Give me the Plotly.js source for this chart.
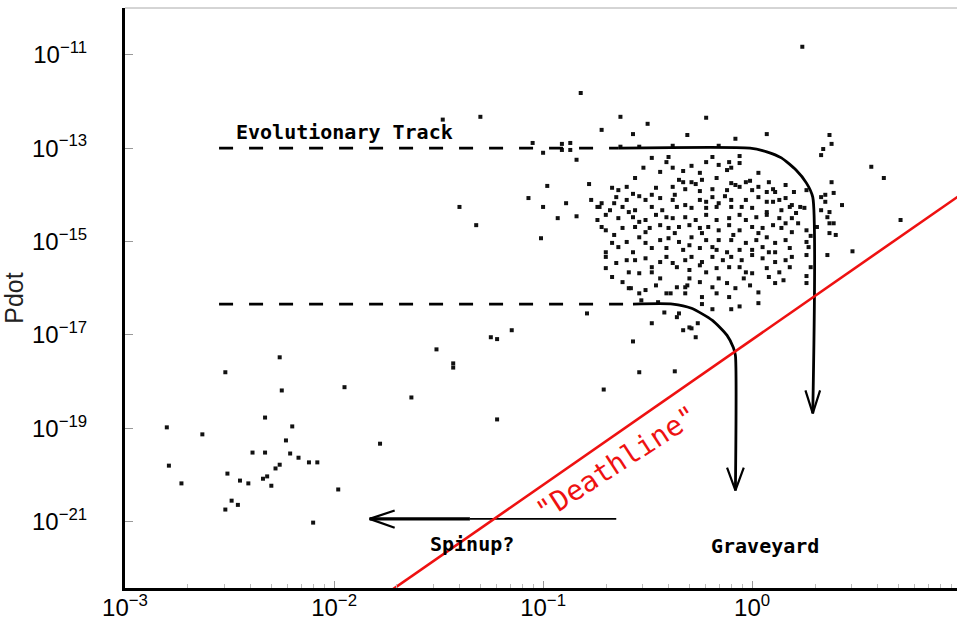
<!DOCTYPE html>
<html>
<head>
<meta charset="utf-8">
<script src="https://cdn.plot.ly/plotly-3.0.1.min.js"></script>
<style>html,body{margin:0;padding:0;background:#fff;}#chart{width:957px;height:623px;}</style>
</head>
<body>
<div id="chart"></div>
<script>
// ---- Pulsar P / Pdot values (log10 of period in s, log10 of Pdot) ----
const logP_outer = [0.24,-0.82,-1.30,-1.48,-0.63,-0.22,-0.72,-0.50,-0.57,-0.31,-0.08,0.07,0.37,0.38,0.34,0.33,-1.05,-1.00,-0.91,-0.87,-0.91,-0.87,-0.84,-0.63,-0.54,-0.38,-0.16,-0.48,-0.40,-0.19,-0.06,0.57,0.63,0.71,0.48,-0.98,-0.78,-1.40,-1.07,-1.00,-0.89,-0.93,-1.32,-0.84,-1.01,-0.74];
const logPdot_outer = [-10.83,-11.82,-12.33,-12.39,-12.33,-12.35,-12.61,-12.48,-12.70,-12.72,-12.80,-12.70,-12.72,-12.91,-13.02,-13.15,-12.89,-13.10,-12.91,-12.89,-13.04,-13.04,-13.25,-12.97,-12.97,-12.95,-12.95,-13.21,-13.19,-13.19,-13.17,-13.40,-13.64,-14.54,-15.21,-13.81,-13.77,-14.26,-14.07,-14.26,-14.18,-14.50,-14.65,-14.46,-14.93,-14.26];

const logP_edge = [0.38,0.39,0.33,0.35,0.35,0.43,0.33,0.37,0.36,0.37,0.39,0.31,0.37,0.40,0.36,0.23,0.25,0.22,0.26,0.28,0.26,0.27,0.26,0.28,0.26,0.26];
const logPdot_edge = [-13.73,-13.96,-14.05,-14.00,-14.15,-14.22,-14.33,-14.37,-14.48,-14.61,-14.61,-14.69,-14.82,-14.86,-15.29,-14.26,-14.28,-14.61,-14.76,-14.88,-15.01,-15.12,-15.29,-15.55,-15.74,-15.89];

const logP_lower = [-0.58,-0.53,-0.45,-0.24,-0.19,-0.10,-0.06,0.03,-0.79,-0.42,-0.35,-0.48,-0.36,-0.33,-0.30,-0.29,-0.26,-0.27,-1.15,-0.57,-0.54,-0.37,-0.71,-1.25,-1.22,-1.51,-1.43,-1.43,-1.63,-1.22,-1.78,-1.95,-1.98,-2.10,
  -0.51,-0.46,-0.41,-0.39,-0.36,-0.31,-0.25,-0.32,-0.24,-0.17,-0.11,-0.08,0.03,-0.19];
const logPdot_lower = [-16.00,-16.26,-16.30,-16.34,-16.45,-16.45,-16.39,-16.32,-16.54,-16.52,-16.54,-16.75,-16.62,-16.90,-16.84,-16.86,-16.75,-17.05,-16.90,-17.14,-17.80,-17.78,-18.17,-17.05,-17.09,-17.31,-17.61,-17.70,-18.34,-18.81,-19.33,-18.12,-20.31,-21.02,
  -16.04,-15.94,-16.11,-16.11,-15.98,-15.94,-15.87,-16.11,-16.19,-16.11,-16.19,-16.00,-16.09,-15.98];

const logP_msp = [-2.26,-2.52,-2.25,-2.80,-2.63,-2.33,-2.20,-2.23,-2.39,-2.33,-2.21,-2.17,-2.12,-2.08,-2.79,-2.26,-2.28,-2.51,-2.45,-2.41,-2.34,-2.32,-2.30,-2.73,-2.49,-2.46,-2.52];
const logPdot_msp = [-17.48,-17.80,-18.19,-18.98,-19.13,-18.77,-18.96,-19.26,-19.52,-19.52,-19.54,-19.63,-19.73,-19.73,-19.80,-19.78,-19.86,-19.97,-20.12,-20.18,-20.08,-20.03,-20.23,-20.18,-20.55,-20.64,-20.74];

const logP_core = [-0.41,-0.52,-0.38,-0.33,-0.29,-0.22,-0.16,-0.11,-0.12,-0.10,-0.06,
  -0.56,-0.35,-0.33,-0.29,-0.27,-0.24,-0.17,-0.10,-0.08,-0.03,-0.01,0.08,0.16,-0.60,-0.64,-0.46,-0.38,-0.32,-0.25,-0.19,-0.12,-0.06,0.00,0.03,0.07,0.10,0.11,0.26,-0.48,-0.57,-0.54,
  -0.73,-0.72,-0.65,-0.60,-0.51,-0.44,-0.38,-0.32,-0.25,-0.22,-0.19,-0.16,-0.10,-0.03,0.03,0.07,0.10,0.16,0.19,-0.68,-0.62,-0.56,-0.48,-0.43,-0.36,-0.29,-0.22,-0.17,-0.10,-0.05,0.00,0.07,0.14,0.18,
  -0.74,-0.72,-0.64,-0.57,-0.54,-0.51,-0.46,-0.41,-0.38,-0.32,-0.27,-0.22,-0.17,-0.11,-0.06,-0.03,0.02,0.07,0.13,0.19,0.21,-0.70,-0.62,-0.56,-0.49,-0.44,-0.40,-0.35,-0.30,-0.25,-0.21,-0.16,-0.11,-0.06,0.00,0.05,0.10,0.14,0.19,
  -0.67,-0.60,-0.54,-0.51,-0.44,-0.40,-0.35,-0.29,-0.22,-0.19,-0.16,-0.10,-0.03,0.02,0.07,0.11,0.16,-0.64,-0.48,-0.41,-0.33,-0.25,-0.17,-0.12,-0.06,0.00,0.05,0.11,0.18,
  -0.70,-0.65,-0.60,-0.56,-0.51,-0.48,-0.41,-0.38,-0.32,-0.29,-0.24,-0.19,-0.14,-0.10,-0.05,0.00,0.05,0.11,0.16,0.19,-0.70,-0.59,-0.54,-0.48,-0.36,-0.30,-0.22,-0.17,-0.11,-0.03,0.00,0.07,0.13,0.18,
  -0.59,-0.32,-0.12,-0.01,0.11,-0.54,-0.67,-0.62,-0.44,-0.30,-0.16,-0.04,0.08,0.15,
  -0.77,-0.70,-0.66,-0.70,-0.67,-0.44,-0.25,0.03,0.13,0.20,
  -0.66,-0.59,-0.51,-0.37,-0.24,-0.09,0.03,-0.57,-0.30,0.08,-0.37,-0.13,0.16,-0.25,-0.06,-0.44];
const logPdot_core = [-13.30,-13.42,-13.42,-13.49,-13.38,-13.30,-13.36,-13.30,-13.47,-13.42,-13.32,
  -13.64,-13.68,-13.73,-13.73,-13.77,-13.68,-13.64,-13.75,-13.79,-13.73,-13.70,-13.73,-13.79,-13.83,-13.90,-13.85,-13.83,-13.88,-13.92,-13.88,-13.90,-13.83,-13.90,-13.83,-13.94,-13.88,-13.94,-13.90,-14.00,-13.98,-14.03,
  -14.26,-14.18,-14.05,-14.11,-14.11,-14.07,-14.11,-14.22,-14.11,-14.15,-14.05,-14.18,-14.11,-14.11,-14.05,-14.15,-14.15,-14.07,-14.22,-14.33,-14.26,-14.33,-14.26,-14.33,-14.26,-14.28,-14.28,-14.26,-14.26,-14.26,-14.28,-14.37,-14.33,-14.26,
  -14.54,-14.69,-14.50,-14.48,-14.58,-14.54,-14.43,-14.48,-14.50,-14.48,-14.54,-14.43,-14.54,-14.50,-14.43,-14.54,-14.48,-14.43,-14.50,-14.50,-14.39,-14.76,-14.71,-14.69,-14.71,-14.65,-14.71,-14.69,-14.65,-14.71,-14.69,-14.76,-14.65,-14.76,-14.69,-14.71,-14.65,-14.71,-14.80,
  -15.03,-15.01,-14.91,-15.03,-14.97,-14.93,-15.01,-14.91,-14.97,-15.12,-14.97,-14.97,-15.03,-14.97,-14.91,-15.03,-14.97,-15.12,-15.14,-15.14,-15.18,-15.14,-15.18,-15.23,-15.18,-15.18,-15.12,-15.23,-15.14,
  -15.33,-15.46,-15.40,-15.40,-15.36,-15.55,-15.33,-15.46,-15.40,-15.33,-15.44,-15.33,-15.40,-15.33,-15.40,-15.29,-15.36,-15.44,-15.40,-15.33,-15.57,-15.66,-15.68,-15.66,-15.55,-15.61,-15.66,-15.57,-15.55,-15.66,-15.68,-15.57,-15.66,-15.55,
  -16.00,-15.98,-15.89,-15.94,-15.89,-16.11,-15.76,-15.87,-15.79,-15.79,-15.79,-15.79,-15.76,-15.83,
  -14.11,-14.43,-14.86,-15.23,-13.85,-13.51,-13.53,-13.53,-14.11,-13.94,
  -14.18,-14.37,-14.80,-14.82,-14.82,-14.86,-14.82,-15.23,-15.08,-15.23,-14.00,-14.03,-14.61,-15.51,-15.55,-15.44];

// ---- Schematic evolutionary tracks (log10 units) ----
const upperDashP = [-2.55, -0.64];
const upperDashPdot = [-13.00, -13.00];
const upperTrackP = [-0.64, -0.01, 0.07, 0.14, 0.21, 0.26, 0.29, 0.29];
const upperTrackPdot = [-13.00, -13.00, -13.08, -13.21, -13.47, -13.75, -14.05, -18.68];
const upperHeadP = [0.255, 0.29, 0.325];
const upperHeadPdot = [-18.19, -18.68, -18.19];

const lowerDashP = [-2.55, -0.57];
const lowerDashPdot = [-16.34, -16.34];
const lowerTrackP = [-0.57, -0.38, -0.29, -0.19, -0.12, -0.09, -0.08, -0.08];
const lowerTrackPdot = [-16.34, -16.34, -16.43, -16.69, -17.01, -17.27, -17.44, -20.33];
const lowerHeadP = [-0.12, -0.08, -0.04];
const lowerHeadPdot = [-19.84, -20.33, -19.84];

const spinupThinP = [-0.65, -1.35];
const spinupThickP = [-1.35, -1.83];
const spinupPdot = [-20.94, -20.94];
const spinupHeadP = [-1.71, -1.83, -1.71];
const spinupHeadPdot = [-20.76, -20.94, -21.13];

const deathlineP = [-1.80, 1.00];
const deathlinePdot = [-22.70, -13.99];

// ---- Axis ticks ----
const xTickVals = [0.001, 0.01, 0.1, 1];
const xTickText = ['10<sup>−3</sup>', '10<sup>−2</sup>', '10<sup>−1</sup>', '10<sup>0</sup>'];
const yTickVals = [1e-11, 1e-13, 1e-15, 1e-17, 1e-19, 1e-21];
const yTickText = ['10<sup>−11</sup>', '10<sup>−13</sup>', '10<sup>−15</sup>', '10<sup>−17</sup>', '10<sup>−19</sup>', '10<sup>−21</sup>'];

const pow10 = a => a.map(v => Math.pow(10, v));

const allP = [].concat(logP_outer, logP_edge, logP_lower, logP_msp, logP_core);
const allPdot = [].concat(logPdot_outer, logPdot_edge, logPdot_lower, logPdot_msp, logPdot_core);

const blackLine = (xs, ys, w, dash, shape) => ({
  type: 'scatter', mode: 'lines', x: pow10(xs), y: pow10(ys), hoverinfo: 'skip',
  line: {color: '#000', width: w, dash: dash || 'solid', shape: shape || 'linear', smoothing: 0.6}
});

const traces = [
  {type: 'scatter', mode: 'markers', x: pow10(allP), y: pow10(allPdot),
   marker: {symbol: 'square', size: 4, color: '#111'}, hoverinfo: 'x+y'},
  blackLine(upperDashP, upperDashPdot, 2.8, '14px,16px'),
  blackLine(upperTrackP, upperTrackPdot, 2.8, 'solid', 'spline'),
  blackLine(upperHeadP, upperHeadPdot, 2.2),
  blackLine(lowerDashP, lowerDashPdot, 2.8, '14px,16px'),
  blackLine(lowerTrackP, lowerTrackPdot, 2.8, 'solid', 'spline'),
  blackLine(lowerHeadP, lowerHeadPdot, 2.2),
  blackLine(spinupThinP, spinupPdot, 1.8),
  blackLine(spinupThickP, spinupPdot, 3.2),
  blackLine(spinupHeadP, spinupHeadPdot, 2.2),
  {type: 'scatter', mode: 'lines', x: pow10(deathlineP), y: pow10(deathlinePdot), hoverinfo: 'skip',
   line: {color: '#ee1111', width: 2.6}}
];

const tickFont = {family: 'Liberation Sans, Arial, sans-serif', size: 24, color: '#000'};
const monoFont = {family: 'DejaVu Sans Mono, monospace', size: 20, color: '#000', weight: 'bold'};

const layout = {
  width: 957, height: 623,
  margin: {l: 125, r: 0, t: 8, b: 35, pad: 0},
  paper_bgcolor: '#fff', plot_bgcolor: '#fff',
  showlegend: false,
  xaxis: {
    type: 'log', range: [-3, 0.98], tickmode: 'array', tickvals: xTickVals, ticktext: xTickText,
    showline: true, linewidth: 3, linecolor: '#000', mirror: false,
    ticks: 'inside', ticklen: 7, tickwidth: 1, tickcolor: '#999', ticklabelstandoff: -4,
    minor: {ticks: 'inside', ticklen: 4, tickwidth: 1, tickcolor: '#bbb', showgrid: false, dtick: 'D1'},
    showgrid: false, zeroline: false, tickfont: tickFont,
    automargin: false
  },
  yaxis: {
    type: 'log', range: [-22.42, -10], tickmode: 'array', tickvals: yTickVals, ticktext: yTickText,
    showline: true, linewidth: 3, linecolor: '#000', mirror: false,
    ticks: 'inside', ticklen: 8, tickwidth: 1, tickcolor: '#999',
    showgrid: false, zeroline: false, tickfont: tickFont, ticklabelstandoff: 30,
    automargin: false,
    title: {text: 'Pdot', font: {family: 'Liberation Sans, Arial, sans-serif', size: 25, color: '#222'}, standoff: 8}
  },
  shapes: [
    {type: 'line', xref: 'paper', yref: 'paper', x0: 0, x1: 1, y0: 1, y1: 1, line: {color: '#aaa', width: 1}}
  ],
  annotations: [
    {xref: 'x', yref: 'y', x: -1.95, y: -12.65, text: 'Evolutionary Track', showarrow: false, font: monoFont},
    {xref: 'x', yref: 'y', x: -1.34, y: -21.47, text: 'Spinup?', showarrow: false, font: monoFont},
    {xref: 'x', yref: 'y', x: 0.06, y: -21.52, text: 'Graveyard', showarrow: false, font: monoFont},
    {xref: 'x', yref: 'y', x: -0.65, y: -19.75, text: '"Deathline"', showarrow: false, textangle: -33,
     font: {family: 'DejaVu Sans Mono, monospace', size: 28, color: '#ee1111'}}
  ]
};

Plotly.newPlot('chart', traces, layout, {displayModeBar: false, staticPlot: true});
</script>
</body>
</html>
